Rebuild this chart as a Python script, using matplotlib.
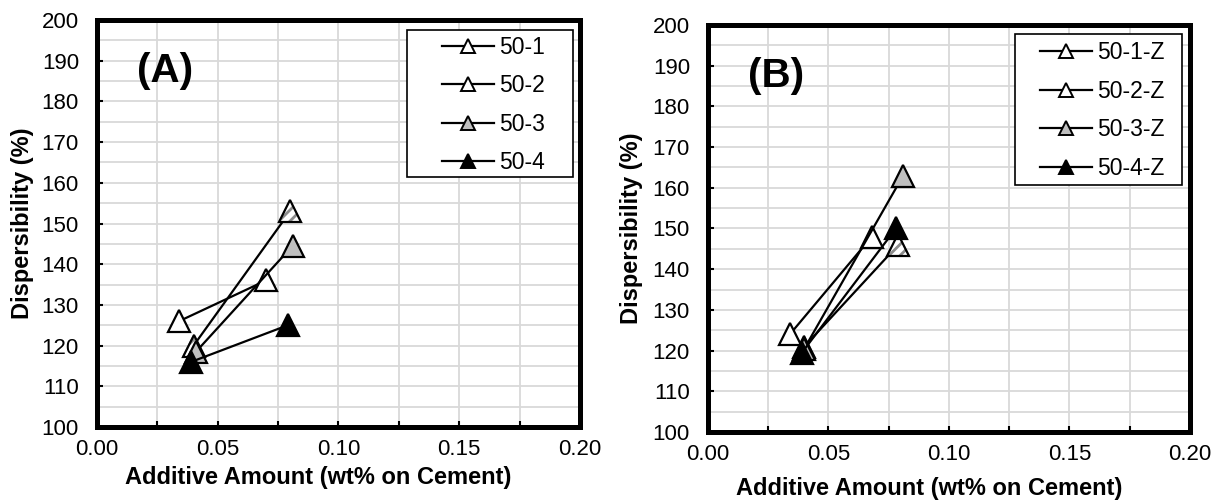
import numpy as np
import matplotlib.pyplot as plt
from matplotlib.lines import Line2D
from matplotlib.patches import Rectangle

plt.close('all')

plt.rcParams['font.family'] = ['Liberation Sans', 'DejaVu Sans']
plt.rcParams['hatch.linewidth'] = 2.0

# Dane (A)
a_labels = ['50-1', '50-2', '50-3', '50-4']
a_x1 = [0.034, 0.070]
a_y1 = [126, 136]
a_x2 = [0.040, 0.080]
a_y2 = [120, 153]
a_x3 = [0.041, 0.081]
a_y3 = [118.5, 144.5]
a_x4 = [0.039, 0.079]
a_y4 = [116, 125]

# Dane (B)
b_labels = ['50-1-Z', '50-2-Z', '50-3-Z', '50-4-Z']
b_x1 = [0.034, 0.068]
b_y1 = [124, 148]
b_x2 = [0.040, 0.079]
b_y2 = [121, 146]
b_x3 = [0.040, 0.081]
b_y3 = [120.5, 163]
b_x4 = [0.039, 0.078]
b_y4 = [119.5, 150]

x_ticks = [0.00, 0.05, 0.10, 0.15, 0.20]
y_ticks = [100, 110, 120, 130, 140, 150, 160, 170, 180, 190, 200]

faces = ['white', 'white', '#bfbfbf', 'black']
ms = 16
lw = 1.6


def draw_panel(ax, xs, ys, labels, letter, legend_box, legend_center, ylab_x, xlab_y):
    for i in range(4):
        z = 3 + i
        if i == 1:
            # marker z kreskowaniem
            ax.plot(xs[i], ys[i], color='black', lw=lw, zorder=z)
            ax.scatter(xs[i], ys[i], s=ms ** 2, marker='^', facecolor='white',
                       edgecolor='#8c8c8c', hatch='///', linewidths=0.5, zorder=z + 0.1)
            ax.plot(xs[i], ys[i], ls='none', marker='^', ms=ms, mfc='none',
                    mec='black', mew=lw, zorder=z + 0.2)
        else:
            ax.plot(xs[i], ys[i], color='black', lw=lw, marker='^', ms=ms,
                    mfc=faces[i], mec='black', mew=lw, zorder=z)

    ax.set_xlim(0, 0.2)
    ax.set_ylim(100, 200)
    ax.set_xticks(x_ticks)
    ax.set_xticklabels(['%.2f' % v for v in x_ticks])
    ax.set_xticks(np.arange(0.025, 0.2, 0.05), minor=True)
    ax.set_yticks(y_ticks)
    ax.set_yticks(np.arange(105, 200, 10), minor=True)

    ax.grid(which='both', color='#d9d9d9', lw=1.3)
    ax.set_axisbelow(True)

    ax.tick_params(which='major', direction='in', length=4, width=1.5,
                   labelsize=16, pad=9, colors='black')
    ax.tick_params(axis='x', which='minor', direction='in', length=4, width=1.5)
    ax.tick_params(axis='y', which='minor', length=0)
    ax.tick_params(axis='y', which='major', pad=13)

    for s in ax.spines.values():
        s.set_linewidth(3.6)
        s.set_color('black')

    ax.set_xlabel('Additive Amount (wt% on Cement)', fontsize=17,
                  fontweight='bold', va='center')
    ax.xaxis.set_label_coords(0.458, xlab_y)
    ax.set_ylabel('Dispersibility (%)', fontsize=17, fontweight='bold', va='center')
    ax.yaxis.set_label_coords(ylab_x, 0.5)

    ax.text(0.141, 0.875, letter, transform=ax.transAxes, fontsize=29,
            fontweight='bold', ha='center', va='center')

    # legenda - ramka osobno
    x0, y0, x1, y1 = legend_box
    ax.add_patch(Rectangle((x0, y0), x1 - x0, y1 - y0, transform=ax.transAxes,
                           facecolor='white', edgecolor='black', lw=1.2, zorder=9))
    handles = [Line2D([], [], color='black', lw=lw, marker='^', ms=10.5,
                      mfc=faces[i], mec='black', mew=1.4) for i in range(4)]
    leg = ax.legend(handles, labels, loc='center', bbox_to_anchor=legend_center,
                    frameon=False, fontsize=16.5, handlelength=2.27,
                    handletextpad=0.2, labelspacing=0.68, borderpad=0,
                    borderaxespad=0)
    leg.set_zorder(10)


fig = plt.figure(figsize=(12.11, 5.03), dpi=100)
ax_a = fig.add_axes([0.0801, 0.1511, 0.3988, 0.8091])
ax_b = fig.add_axes([0.5846, 0.1412, 0.3980, 0.8091])

draw_panel(ax_a, [a_x1, a_x2, a_x3, a_x4], [a_y1, a_y2, a_y3, a_y4], a_labels, '(A)',
           (0.642, 0.614, 0.9855, 0.975), (0.821, 0.791), -0.155, -0.125)
draw_panel(ax_b, [b_x1, b_x2, b_x3, b_x4], [b_y1, b_y2, b_y3, b_y4], b_labels, '(B)',
           (0.637, 0.607, 0.983, 0.978), (0.818, 0.790), -0.158, -0.138)

fig.savefig('out.png', dpi=100)
